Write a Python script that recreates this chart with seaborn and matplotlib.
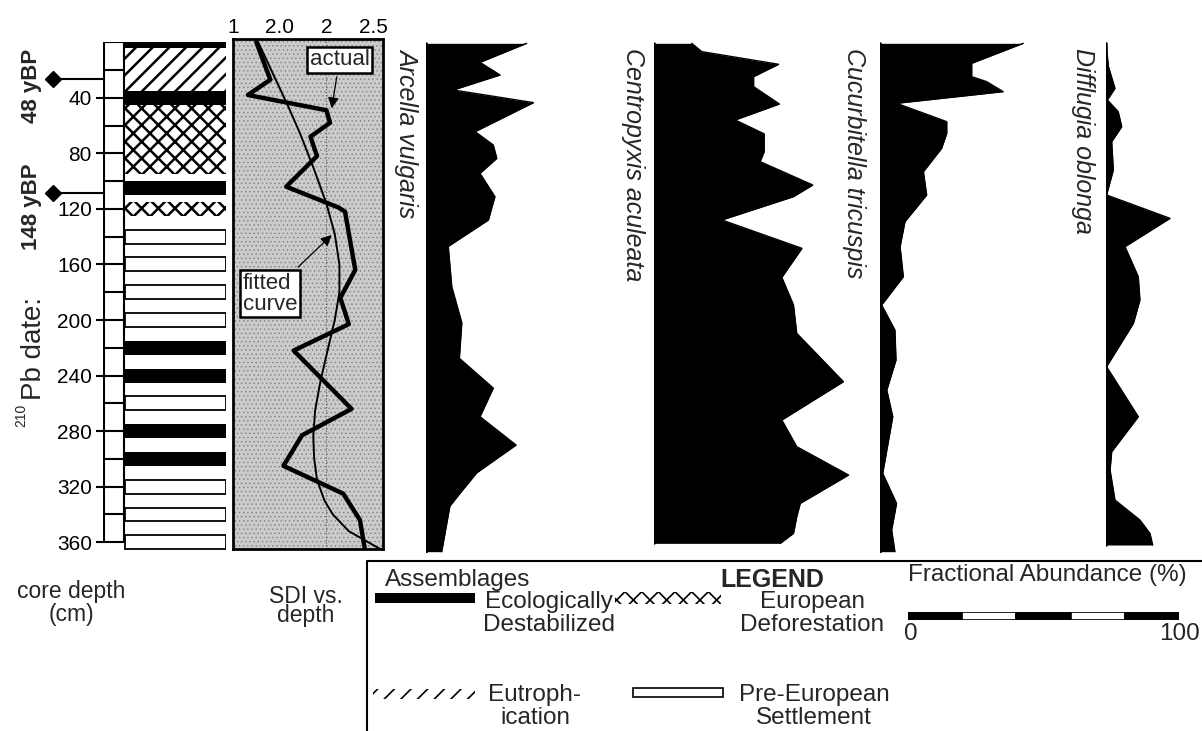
import matplotlib
matplotlib.use("Agg")
import matplotlib.pyplot as plt
from matplotlib.patches import Rectangle
import seaborn as sns

# ---- data ---------------------------------------------------------------
# core stratigraphy (depth in cm)
layer_top = [0, 4, 35, 45, 100, 115, 135, 155, 175, 195, 215, 235, 255, 275, 295, 315, 335, 355]
layer_bottom = [4, 35, 45, 95, 110, 125, 145, 165, 185, 205, 225, 245, 265, 285, 305, 325, 345, 365]
layer_kind = ["eco", "eut", "eco", "def", "eco", "def", "pre", "pre", "pre", "pre",
              "eco", "eco", "pre", "eco", "eco", "pre", "pre", "pre"]

date_depths = [26.5, 108.5]
date_labels = ["48 yBP", "148 yBP"]

# SDI vs depth
sdi_depth = [0, 27, 38, 49, 58, 68, 82, 104, 119, 122, 164, 184, 203, 222, 264, 283, 305, 325, 344, 364]
sdi_actual = [1.25, 1.40, 1.16, 2.00, 2.04, 1.83, 1.90, 1.57, 2.13, 2.20, 2.31, 2.15, 2.24, 1.65,
              2.27, 1.74, 1.54, 2.18, 2.36, 2.41]
fit_depth = [0, 23, 46, 66, 90, 116, 138, 160, 180, 200, 220, 243, 265, 284, 300, 315, 330, 340, 352, 365]
fit_sdi = [1.27, 1.43, 1.59, 1.72, 1.86, 2.00, 2.09, 2.14, 2.14, 2.09, 2.02, 1.94, 1.88, 1.86,
           1.87, 1.90, 1.98, 2.07, 2.24, 2.58]
sdi_ticks = [1.0, 1.5, 2.0, 2.5]
sdi_ticklabels = ["1", "2.0", "2", "2.5"]

# fractional abundance (%) of each species
arcella_depth = [0.8, 14.5, 23.6, 34.4, 43.5, 64.4, 74, 83.6, 94.4, 111.2, 128, 147, 176, 202,
                 227.6, 249, 269.6, 290, 310, 324.8, 334, 353.6, 366.8]
arcella = [37.1, 19.9, 27.3, 10.1, 39.6, 18.1, 24.8, 26.1, 19.9, 25.4, 23, 8.2, 9.5, 13.2,
           12.3, 24.8, 19.9, 33.2, 18.7, 12.5, 8.8, 7, 5.8]
centro_depth = [0.8, 6.8, 15.9, 24.8, 32, 44.5, 56, 66, 78.8, 86, 102.8, 111.2, 128, 148.4,
                169.3, 189.2, 209.6, 244.4, 272, 291.2, 311.6, 332, 341.6, 353.6, 360.8]
centro = [14.1, 17.8, 46.1, 36.9, 36.9, 46.4, 30.1, 40.8, 40.8, 39.3, 58.7, 51.6, 25.2, 54.7,
          47.3, 51.6, 52.8, 70, 47.3, 52.8, 71.9, 54.1, 52.8, 51.6, 46.7]
cucurb_depth = [0.8, 15.2, 24.8, 28.4, 35.6, 44, 57.2, 65.6, 76.4, 93.2, 110, 129.2, 147.2,
                168.8, 189.2, 207.2, 228.8, 250.4, 269.6, 310.4, 332, 351.2, 366.8]
cucurb = [52.8, 33.8, 33.8, 39.3, 45.4, 6.1, 24.6, 24.6, 22.7, 16, 17.2, 9.2, 7.4,
          8.6, 0.6, 5.5, 5.9, 2.5, 4.7, 1.0, 6.1, 4.3, 5.5]
difflu_depth = [0.8, 17.6, 33.2, 41.6, 50, 60.8, 71.6, 92, 110, 126.8, 147.2, 168.8, 185.6,
                202.4, 233.6, 269.6, 294.8, 308, 329.6, 344, 353.6, 362]
difflu = [0, 0.9, 3.3, 0.5, 4.5, 5.8, 2.1, 2.7, 0.2, 23.6, 7, 11.9, 12.5,
          10.1, 0.2, 11.9, 2.1, 1.5, 3.3, 12.5, 16.2, 17.2]

species_names = ["Arcella vulgaris", "Centropyxis aculeata", "Cucurbitella tricuspis", "Difflugia oblonga"]
species_depths = [arcella_depth, centro_depth, cucurb_depth, difflu_depth]
species_values = [arcella, centro, cucurb, difflu]

scale_left = [0, 20, 40, 60, 80]
scale_colors = ["black", "white", "black", "white", "black"]

# ---- layout (pixels) -----------------------------------------------------
W, H = 1202, 731
Y0 = 42.2      # pixel row of depth 0
PPC = 1.389    # pixels per cm of depth
PPP = 2.713    # pixels per percent abundance

sns.set_theme(style="white")
plt.rcParams["font.family"] = ["Liberation Sans", "DejaVu Sans"]

fig = plt.figure(figsize=(W / 100, H / 100), dpi=100)


def px_axes(x0, y0, x1, y1):
    return fig.add_axes([x0 / W, 1 - y1 / H, (x1 - x0) / W, (y1 - y0) / H])


def depth_axes(x0, x1, d_top, d_bot):
    ax = px_axes(x0, Y0 + d_top * PPC, x1, Y0 + d_bot * PPC)
    ax.set_ylim(d_bot, d_top)
    return ax


# ---- core column ---------------------------------------------------------
ax_core = depth_axes(103, 226, 0, 366)
ax_core.set_xlim(103, 226)
for s in ax_core.spines.values():
    s.set_visible(False)
ax_core.set_xticks([])

styles = {
    "eco": dict(color="black", edgecolor="black", linewidth=0),
    "eut": dict(color="white", edgecolor="black", hatch="//", linewidth=0),
    "def": dict(color="white", edgecolor="black", hatch="xx", linewidth=0),
    "pre": dict(color="white", edgecolor="black", linewidth=1.3),
}
with plt.rc_context({"hatch.linewidth": 1.8}):
    for top, bot, kind in zip(layer_top, layer_bottom, layer_kind):
        ax_core.barh((top + bot) / 2, 226 - 125, left=125, height=bot - top, **styles[kind])

# depth ruler
ax_core.hlines(list(range(0, 361, 20)), 103, 124, color="black", lw=1.5)
ax_core.vlines(103, 0, 360, color="black", lw=2.2)
ax_core.vlines(124, 0, 360, color="black", lw=1.5)
ax_core.set_yticks(list(range(40, 361, 40)))
ax_core.tick_params(axis="y", left=True, length=5, width=1.5, direction="out",
                    pad=3, labelsize=15, colors="black")

# 210Pb date markers
for d in date_depths:
    ax_core.plot([53, 103], [d, d], color="black", lw=1.5, clip_on=False)
    ax_core.plot([53], [d], marker="D", ms=8.5, color="black", clip_on=False)

# ---- SDI panel -----------------------------------------------------------
ax_sdi = depth_axes(233, 383, -2, 365)
ax_sdi.set_xlim(1.0, 2.607)
with plt.rc_context({"hatch.linewidth": 0.5}):
    ax_sdi.add_patch(Rectangle((0, 0), 1, 1, transform=ax_sdi.transAxes,
                               facecolor="#cbcbcb", edgecolor="#808080",
                               hatch="....", lw=0, zorder=0))
ax_sdi.axvline(2.0, color="#555555", lw=0.8, ls=":", zorder=1)
sns.lineplot(x=fit_sdi, y=fit_depth, sort=False, estimator=None, color="black",
             lw=1.4, ax=ax_sdi, zorder=3)
sns.lineplot(x=sdi_actual, y=sdi_depth, sort=False, estimator=None, color="black",
             lw=3.2, ax=ax_sdi, zorder=4)
ax_sdi.set_xlabel("")
ax_sdi.set_ylabel("")
ax_sdi.set_yticks([])
ax_sdi.xaxis.tick_top()
ax_sdi.set_xticks(sdi_ticks)
ax_sdi.set_xticklabels(sdi_ticklabels)
ax_sdi.tick_params(axis="x", top=True, bottom=False, length=0, pad=2,
                   labelsize=15, colors="black")
for s in ax_sdi.spines.values():
    s.set_visible(True)
    s.set_color("black")
    s.set_linewidth(2)

box = dict(boxstyle="square,pad=0.12", fc="white", ec="black", lw=1.8)
arrow = dict(arrowstyle="-|>", color="black", lw=0.9, mutation_scale=16, shrinkB=0)
ax_sdi.annotate("actual", xy=(2.057, 47.6), xytext=(2.141, 12.8), fontsize=16,
                ha="center", va="center", bbox=box, arrowprops=arrow, zorder=6)
ax_sdi.annotate("fitted\ncurve", xy=(2.057, 138.8), xytext=(1.40, 181), fontsize=16,
                ha="center", va="center", multialignment="left", linespacing=1.0,
                bbox=box, arrowprops=arrow, zorder=6)

# ---- species abundance panels -------------------------------------------
baselines = [426, 653.5, 880, 1106]
xmaxes = [80, 80, 80, 35]
for base, xm, dep, val in zip(baselines, xmaxes, species_depths, species_values):
    ax = depth_axes(base, base + xm * PPP, 0, 368)
    ax.set_xlim(0, xm)
    ax.fill_betweenx(dep, 0, val, color="black", lw=0)
    sns.lineplot(x=val, y=dep, sort=False, estimator=None, color="black", lw=1, ax=ax)
    ax.plot([0, 0], [dep[0], dep[-1]], color="black", lw=1.8)
    ax.set_axis_off()

# fractional abundance scale bar
ax_scale = px_axes(908, 612, 1179, 620)
ax_scale.barh(0.5, 20, left=scale_left, height=1, color=scale_colors,
              edgecolor="black", lw=1.2)
ax_scale.set_xlim(0, 100)
ax_scale.set_ylim(0, 1)
ax_scale.set_axis_off()

# ---- overlay for text and legend (pixel coordinates) ---------------------
ov = fig.add_axes([0, 0, 1, 1])
ov.set_xlim(0, W)
ov.set_ylim(H, 0)
ov.set_axis_off()
ov.patch.set_alpha(0)

ov.text(32, 86, date_labels[0], rotation=90, ha="center", va="center",
        fontsize=16, fontweight="bold")
ov.text(32, 207, date_labels[1], rotation=90, ha="center", va="center",
        fontsize=16, fontweight="bold")
ov.text(34, 400, "Pb date:", rotation=90, ha="center", va="bottom", fontsize=20)
ov.text(21, 427, "210", rotation=90, ha="center", va="bottom", fontsize=10)

for name, x in zip(species_names, [407, 633, 854, 1083]):
    ov.text(x, 48, name, rotation=-90, ha="center", va="top", fontsize=18, style="italic")

ov.text(71.5, 603, "core depth\n(cm)", ha="center", va="center", fontsize=16.5,
        linespacing=0.95)
ov.text(306, 606, "SDI vs.\ndepth", ha="center", va="center", fontsize=16.5,
        linespacing=0.78)

# legend frame
ov.plot([367, 367, W], [H, 560.5, 560.5], color="black", lw=1.5)
ov.text(385, 580, "Assemblages", ha="left", va="center", fontsize=17.5)
ov.text(720, 580, "LEGEND", ha="left", va="center", fontsize=18, fontweight="bold")
ov.text(1047, 575, "Fractional Abundance (%)", ha="center", va="center", fontsize=17.5)
ov.text(911, 634, "0", ha="center", va="center", fontsize=17.5)
ov.text(1200, 634, "100", ha="right", va="center", fontsize=17.5)

ov.add_patch(Rectangle((375, 593), 100, 10, facecolor="black", edgecolor="black", lw=0))
with plt.rc_context({"hatch.linewidth": 1.2}):
    ov.add_patch(Rectangle((615, 592), 106, 12, facecolor="white", edgecolor="black",
                           hatch="xx", lw=0))
    ov.add_patch(Rectangle((373, 689), 102, 10, facecolor="white", edgecolor="black",
                           hatch="//", lw=0))
ov.add_patch(Rectangle((633, 688), 90, 9, facecolor="white", edgecolor="black", lw=1.2))

ov.text(549, 613.5, "Ecologically\nDestabilized", ha="center", va="center", fontsize=17.5,
        linespacing=1.1)
ov.text(812, 613.5, "European\nDeforestation", ha="center", va="center", fontsize=17.5,
        linespacing=1.1)
ov.text(535, 706.5, "Eutroph-\nication", ha="center", va="center", fontsize=17.5,
        linespacing=1.1)
ov.text(814, 706.5, "Pre-European\nSettlement", ha="center", va="center", fontsize=17.5,
        linespacing=1.1)

fig.savefig("out.png", dpi=100, facecolor="white")
